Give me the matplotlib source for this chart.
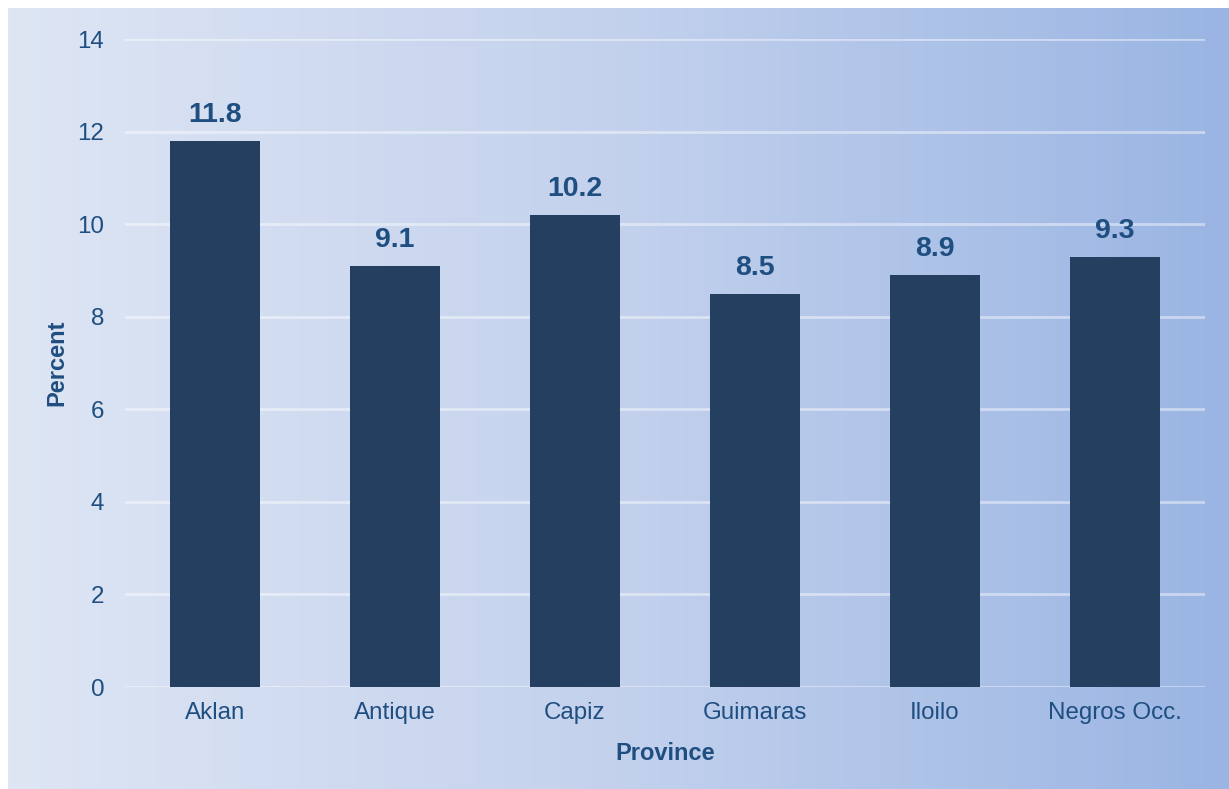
import numpy as np
import matplotlib.pyplot as plt
from matplotlib.colors import LinearSegmentedColormap

# data
provinces = ['Aklan', 'Antique', 'Capiz', 'Guimaras', 'Iloilo', 'Negros Occ.']
percent = [11.8, 9.1, 10.2, 8.5, 8.9, 9.3]
yticks = [0, 2, 4, 6, 8, 10, 12, 14]

plt.rcParams['font.family'] = ['Liberation Sans', 'DejaVu Sans']
text_col = '#1F4E80'
bar_col = '#253F60'

W, H = 1229, 789
fig = plt.figure(figsize=(W / 100, H / 100), dpi=100)
fig.patch.set_facecolor('white')

# gradient background (light left -> blue right)
bg = fig.add_axes([8 / W, 0, 1 - 8 / W, 1 - 8 / H])
cmap = LinearSegmentedColormap.from_list('bg', ['#DEE6F4', '#C3D1ED', '#9AB5E3'])
bg.imshow(np.linspace(0, 1, 256).reshape(1, -1), aspect='auto', cmap=cmap,
          extent=[0, 1, 0, 1])
bg.axis('off')

ax = fig.add_axes([125 / W, 102 / H, 1080 / W, 648 / H])
ax.patch.set_alpha(0)
x = np.arange(len(provinces))
bars = ax.bar(x, percent, width=0.5, color=bar_col, zorder=3)
for b, v in zip(bars, percent):
    ax.text(b.get_x() + b.get_width() / 2, v + 0.28, f'{v}', ha='center', va='bottom',
            fontsize=20.5, fontweight='bold', color=text_col, zorder=4)

ax.set_xlim(-0.5, len(provinces) - 0.5)
ax.set_ylim(0, 14)
ax.set_yticks(yticks)
ax.yaxis.grid(True, color='white', alpha=0.45, lw=2, zorder=1)
ax.set_axisbelow(True)
for s in ax.spines.values():
    s.set_visible(False)
ax.tick_params(length=0, labelsize=17.4, labelcolor=text_col)
ax.tick_params(axis='y', pad=15)
ax.tick_params(axis='x', pad=11)
ax.set_xticks(x)
ax.set_xticklabels(provinces)
ax.set_xlabel('Province', fontsize=17, fontweight='bold', color=text_col, labelpad=13)
ax.set_ylabel('Percent', fontsize=17, fontweight='bold', color=text_col, labelpad=6.5)

fig.savefig('out.png', dpi=100)
